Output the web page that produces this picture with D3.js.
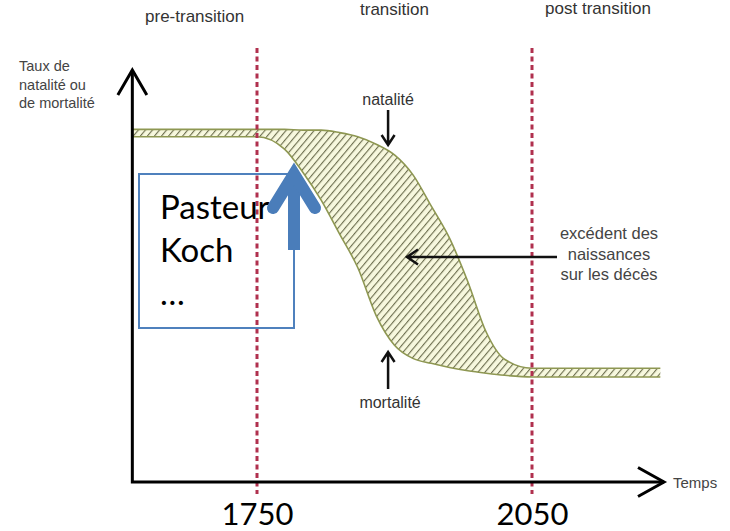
<!DOCTYPE html>
<html>
<head>
<meta charset="utf-8">
<script src="https://cdn.jsdelivr.net/npm/d3@7"></script>
<style>
  body { margin: 0; background: #fff; }
  svg { display: block; }
</style>
</head>
<body>
<div id="chart"></div>
<script>
// values (years, rate per 1000)
const years = [1614, 1750, 1780, 1800, 1820, 1840, 1860, 1880, 1900, 1920, 1940, 1960, 1980, 2000, 2020, 2050, 2190];
const birthRates = [42.8, 42.8, 42.8, 42.7, 42.7, 42.4, 41.9, 41.0, 39.7, 37.3, 33.5, 29.6, 24.3, 18.2, 14.9, 13.8, 13.8];
const deathRates = [41.9, 41.9, 40.4, 37.6, 34.2, 30.1, 26.0, 20.2, 16.6, 15.0, 14.4, 13.9, 13.5, 13.2, 12.95, 12.75, 12.75];

const markerYears = [1750, 2050];
const phaseLabels = ["pre-transition", "transition", "post transition"];
const yLabelLines = ["Taux de", "natalité ou", "de mortalité"];
const surplusLines = ["excédent des", "naissances", "sur les décès"];
const boxLines = ["Pasteur", "Koch", "…"];

function chart() {
    const width = 730, height = 531;
    const axisEnd = 664, axisTop = 70;

    const svg = d3.select("#chart").append("svg")
        .attr("width", width)
        .attr("height", height);

    const xScale = d3.scaleLinear().domain([1750, 2050]).range([257, 532]);
    const yScale = d3.scaleLinear().domain([0, 50]).range([482, axisTop]);
    const x0 = xScale(years[0]);
    const y0 = yScale(0);

    const data = years.map((yr, i) => ({ year: yr, birth: birthRates[i], death: deathRates[i] }));

    // hatch pattern
    const defs = svg.append("defs");
    const pat = defs.append("pattern")
        .attr("id", "hatch")
        .attr("width", 5.4)
        .attr("height", 10)
        .attr("patternUnits", "userSpaceOnUse")
        .attr("patternTransform", "rotate(40)");
    pat.append("rect").attr("width", 5.4).attr("height", 10).attr("fill", "#f7f8de");
    pat.append("line")
        .attr("x1", 0.6).attr("y1", 0).attr("x2", 0.6).attr("y2", 10)
        .attr("stroke", "#5d5f3e").attr("stroke-width", 1);

    // band between birth and death rates
    const area = d3.area()
        .x(d => xScale(d.year))
        .y0(d => yScale(d.death))
        .y1(d => yScale(d.birth))
        .curve(d3.curveMonotoneX);

    svg.append("path")
        .datum(data)
        .attr("d", area)
        .attr("fill", "url(#hatch)");

    ["birth", "death"].forEach(key => {
        svg.append("path")
            .datum(data)
            .attr("d", d3.line().x(d => xScale(d.year)).y(d => yScale(d[key])).curve(d3.curveMonotoneX))
            .attr("fill", "none")
            .attr("stroke", "#8e9752")
            .attr("stroke-width", 1.6);
    });

    // red dashed year markers
    svg.selectAll(".marker")
        .data(markerYears)
        .enter()
        .append("line")
        .attr("class", "marker")
        .attr("x1", d => xScale(d)).attr("x2", d => xScale(d))
        .attr("y1", 48).attr("y2", 494)
        .attr("stroke", "#b0304e")
        .attr("stroke-width", 3)
        .attr("stroke-dasharray", "5,3.5");

    // axes with arrow heads
    svg.append("path")
        .attr("d", `M${x0},${axisTop} L${x0},${y0} L${axisEnd},${y0}`)
        .attr("fill", "none").attr("stroke", "#000").attr("stroke-width", 3);
    svg.append("path")
        .attr("d", `M${x0 - 14.5},${axisTop + 25} L${x0},${axisTop} L${x0 + 14.5},${axisTop + 25}`)
        .attr("fill", "none").attr("stroke", "#000").attr("stroke-width", 3);
    svg.append("path")
        .attr("d", `M${axisEnd - 26},${y0 - 14.5} L${axisEnd},${y0} L${axisEnd - 26},${y0 + 14.5}`)
        .attr("fill", "none").attr("stroke", "#000").attr("stroke-width", 3);

    // year tick labels
    const xAxis = svg.append("g")
        .attr("transform", "translate(0," + y0 + ")")
        .call(d3.axisBottom(xScale).tickValues(markerYears).tickSize(0).tickFormat(d3.format("d")));
    xAxis.select(".domain").remove();
    xAxis.selectAll("text")
        .attr("y", 43)
        .attr("dy", 0)
        .style("font-family", "Lato, sans-serif")
        .style("font-size", "31px")
        .style("fill", "#000");

    // phase labels along the top edge
    const bounds = [x0, xScale(markerYears[0]), xScale(markerYears[1]), axisEnd];
    const phaseBase = [22, 15, 14];
    svg.selectAll(".phase")
        .data(phaseLabels)
        .enter()
        .append("text")
        .attr("x", (d, i) => (bounds[i] + bounds[i + 1]) / 2)
        .attr("y", (d, i) => phaseBase[i])
        .attr("text-anchor", "middle")
        .style("font-family", "Liberation Sans, Arial, sans-serif")
        .style("font-size", "17px")
        .style("fill", "#333")
        .text(d => d);

    // y axis title
    svg.selectAll(".ylab")
        .data(yLabelLines)
        .enter()
        .append("text")
        .attr("x", 19)
        .attr("y", (d, i) => 71 + i * 18.5)
        .style("font-family", "Liberation Sans, Arial, sans-serif")
        .style("font-size", "14.5px")
        .style("fill", "#444")
        .text(d => d);

    svg.append("text")
        .attr("x", 673).attr("y", 488)
        .style("font-family", "Liberation Sans, Arial, sans-serif")
        .style("font-size", "15px")
        .style("fill", "#444")
        .text("Temps");

    // annotations
    const annX = xScale(1893);
    function arrow(path) {
        svg.append("path").attr("d", path)
            .attr("fill", "none").attr("stroke", "#111").attr("stroke-width", 2.5);
    }
    svg.append("text")
        .attr("x", annX).attr("y", 105)
        .attr("text-anchor", "middle")
        .style("font-family", "Liberation Sans, Arial, sans-serif")
        .style("font-size", "16px").style("fill", "#333")
        .text("natalité");
    arrow(`M${annX},110 L${annX},145 M${annX - 6.5},135 L${annX},145 L${annX + 6.5},135`);

    svg.append("text")
        .attr("x", annX + 2).attr("y", 408)
        .attr("text-anchor", "middle")
        .style("font-family", "Liberation Sans, Arial, sans-serif")
        .style("font-size", "16px").style("fill", "#333")
        .text("mortalité");
    arrow(`M${annX},389 L${annX},352 M${annX - 6.5},362 L${annX},352 L${annX + 6.5},362`);

    arrow(`M557,257 L407,257 M418,249.5 L407,257 L418,264.5`);
    svg.selectAll(".surplus")
        .data(surplusLines)
        .enter()
        .append("text")
        .attr("x", 609)
        .attr("y", (d, i) => 239 + i * 20.5)
        .attr("text-anchor", "middle")
        .style("font-family", "Liberation Sans, Arial, sans-serif")
        .style("font-size", "16.5px")
        .style("fill", "#444")
        .text(d => d);

    // blue text box and arrow
    svg.append("rect")
        .attr("x", 139).attr("y", 174)
        .attr("width", 155).attr("height", 154)
        .attr("fill", "none")
        .attr("stroke", "#4f81bd")
        .attr("stroke-width", 2);
    svg.selectAll(".boxtext")
        .data(boxLines)
        .enter()
        .append("text")
        .attr("x", 160)
        .attr("y", (d, i) => 219 + i * 43)
        .style("font-family", "Lato, sans-serif")
        .style("font-size", "33px")
        .style("fill", "#000")
        .text(d => d);

    const blue = "#4a7dba";
    svg.append("line")
        .attr("x1", 294).attr("y1", 250).attr("x2", 294).attr("y2", 178)
        .attr("stroke", blue).attr("stroke-width", 12);
    svg.append("path")
        .attr("d", "M273,208 L294,174 L315,208")
        .attr("fill", "none")
        .attr("stroke", blue).attr("stroke-width", 12)
        .attr("stroke-linecap", "round")
        .attr("stroke-linejoin", "miter");
}

chart();
</script>
</body>
</html>
